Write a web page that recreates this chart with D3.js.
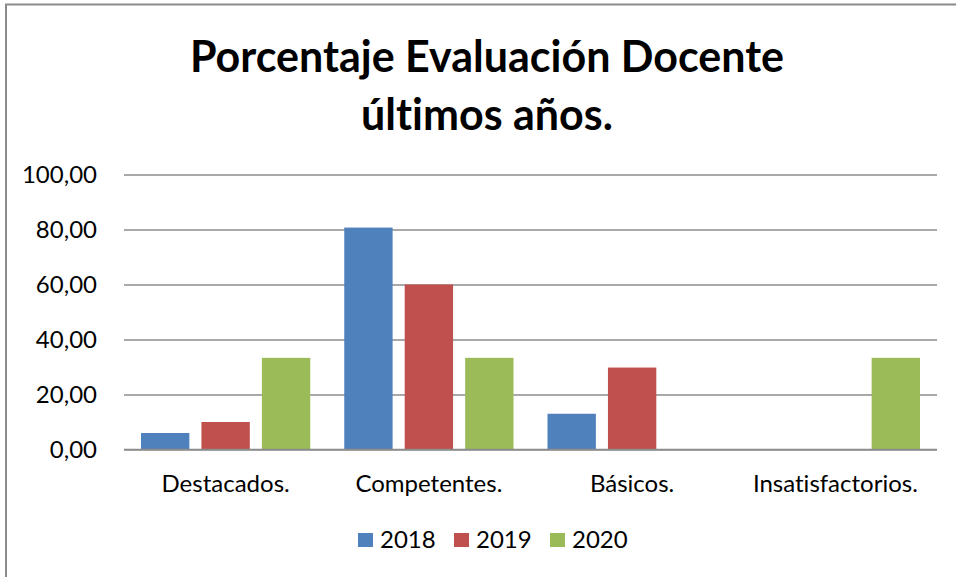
<!DOCTYPE html>
<html>
<head>
<meta charset="utf-8">
<script src="https://cdn.jsdelivr.net/npm/d3@7"></script>
<style>
  body { margin: 0; background: #fff; }
  svg { display: block; }
  text { font-family: Lato, "Open Sans", sans-serif; fill: #000; font-variant-ligatures: none; }
</style>
</head>
<body>
<div class="chart"></div>
<script>
var categories = ["Destacados.", "Competentes.", "Básicos.", "Insatisfactorios."];
var years = ["2018", "2019", "2020"];
var values2018 = [6.0, 80.7, 13.0, 0];
var values2019 = [10.0, 60.0, 29.8, 0];
var values2020 = [33.33, 33.33, 0, 33.33];
var colors = ["#4F81BD", "#C0504D", "#9BBB59"];
var yTicks = [0, 20, 40, 60, 80, 100];
var titleLines = ["Porcentaje Evaluación Docente", "últimos años."];

function chart() {
    var width = 956, height = 577;
    var plot = {left: 124, right: 937, top: 174.5, bottom: 449.5};
    var series = [values2018, values2019, values2020];
    var labelFont = "Lato, 'Open Sans', sans-serif";

    var svg = d3.select(".chart").append("svg")
            .attr("width", width)
            .attr("height", height);

    // outer chart border (only top and left visible in the crop)
    svg.append("path")
            .attr("d", "M6,580 V4.5 H960")
            .attr("fill", "none")
            .attr("stroke", "#8a8a8a")
            .attr("stroke-width", 2);

    svg.append("text")
            .attr("text-anchor", "middle")
            .attr("font-weight", "bold")
            .attr("font-size", 43)
            .selectAll("tspan")
            .data(titleLines)
            .enter().append("tspan")
            .attr("x", 487)
            .attr("y", function (d, i) { return 72 + i * 58; })
            .text(function (d) { return d; });

    var x0 = d3.scaleBand()
            .domain(categories)
            .range([plot.left, plot.right]);

    var x1 = d3.scaleBand()
            .domain(years)
            .range([17, x0.bandwidth() - 17])
            .paddingInner(0.2);

    var y = d3.scaleLinear()
            .domain([0, 100])
            .range([plot.bottom, plot.top]);

    var yAxis = d3.axisLeft(y)
            .tickValues(yTicks)
            .tickSize(plot.left - plot.right)
            .tickPadding(27)
            .tickFormat(function (d) { return d3.format(".2f")(d).replace(".", ","); });

    var gy = svg.append("g")
            .attr("class", "y axis")
            .attr("transform", "translate(" + plot.left + ",0)")
            .call(yAxis);
    gy.select(".domain").remove();
    gy.selectAll(".tick line")
            .attr("stroke", "#8c8c8c")
            .attr("stroke-width", 1.6);
    gy.selectAll(".tick text")
            .attr("x", -27)
            .attr("font-size", 24)
            .attr("fill", "#000")
            .style("font-family", labelFont);

    var groups = svg.append("g").selectAll("g")
            .data(categories)
            .enter().append("g")
            .attr("transform", function (d) { return "translate(" + x0(d) + ",0)"; });

    groups.selectAll("rect")
            .data(function (d, i) {
                return years.map(function (yr, k) { return {year: yr, value: series[k][i], color: colors[k]}; });
            })
            .enter().append("rect")
            .attr("x", function (d) { return x1(d.year); })
            .attr("width", x1.bandwidth())
            .attr("y", function (d) { return y(d.value); })
            .attr("height", function (d) { return y(0) - y(d.value); })
            .attr("fill", function (d) { return d.color; });

    // baseline drawn over the bars
    svg.append("line")
            .attr("x1", plot.left)
            .attr("x2", plot.right)
            .attr("y1", y(0))
            .attr("y2", y(0))
            .attr("stroke", "#8c8c8c")
            .attr("stroke-width", 1.6);

    var xAxis = d3.axisBottom(x0)
            .tickSize(0)
            .tickPadding(0);

    var gx = svg.append("g")
            .attr("class", "x axis")
            .attr("transform", "translate(0," + y(0) + ")")
            .call(xAxis);
    gx.select(".domain").remove();
    gx.selectAll(".tick text")
            .attr("y", 42)
            .attr("dy", null)
            .attr("font-size", 24)
            .attr("fill", "#000")
            .style("font-family", labelFont);

    var legendX = d3.scalePoint()
            .domain(years)
            .range([358, 550]);

    var legend = svg.append("g").selectAll("g")
            .data(years)
            .enter().append("g")
            .attr("transform", function (d) { return "translate(" + legendX(d) + ",533)"; });

    legend.append("rect")
            .attr("width", 15)
            .attr("height", 14)
            .attr("fill", function (d, i) { return colors[i]; });

    legend.append("text")
            .attr("x", 22)
            .attr("y", 14.5)
            .attr("font-size", 24)
            .text(function (d) { return d; });
}

chart();
</script>
</body>
</html>
